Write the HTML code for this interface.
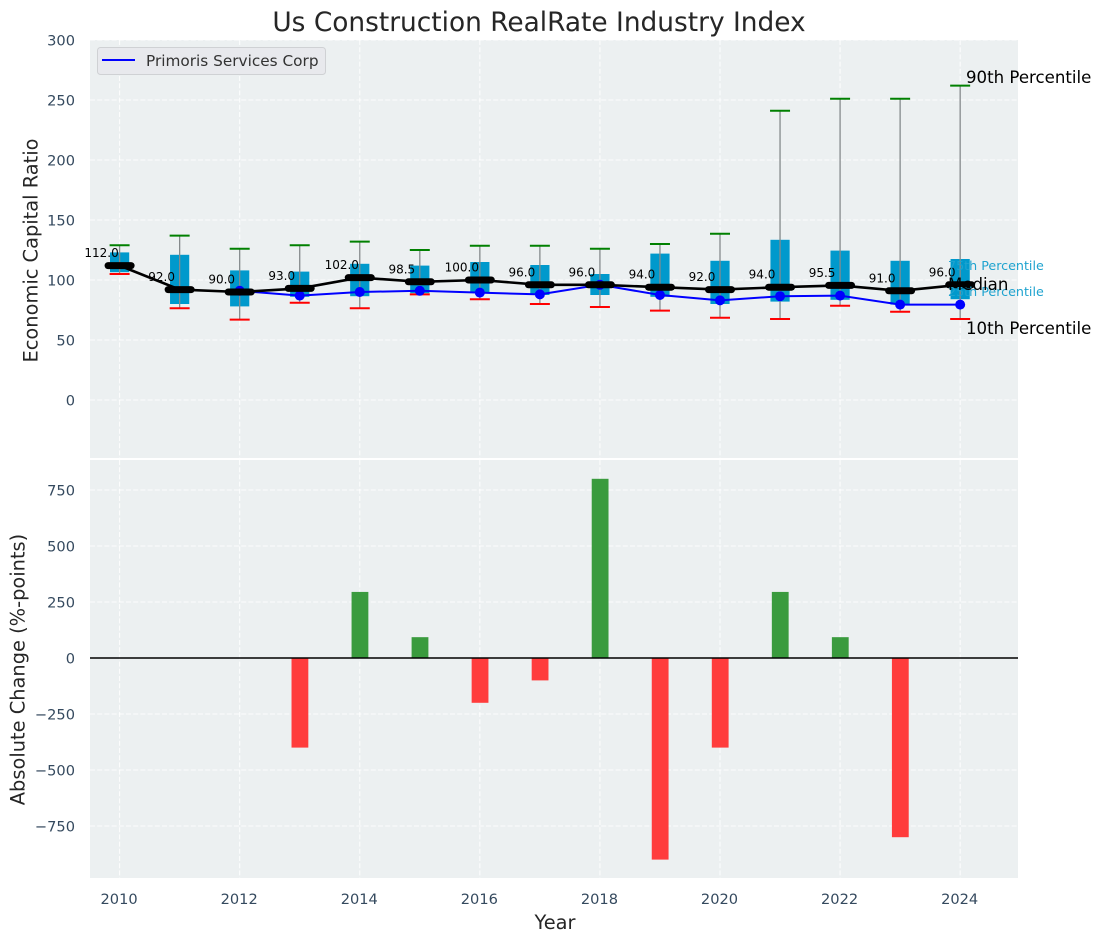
<!DOCTYPE html>
<html lang="en">
<head>
<meta charset="utf-8">
<title>Us Construction RealRate Industry Index</title>
<style>
html,body{margin:0;padding:0;background:#fff;}
svg{display:block;font-family:"DejaVu Sans","Liberation Sans",sans-serif;}
</style>
</head>
<body>
<svg id="chart" xmlns="http://www.w3.org/2000/svg" width="1101" height="942" viewBox="0 0 1101 942">
  <rect x="90" y="40" width="928" height="418" fill="#ecf0f1"/>
  <rect x="90" y="460" width="928" height="418" fill="#ecf0f1"/>
  <g id="grid"></g>
  <g id="bars"></g>
  <line x1="90" x2="1018" y1="658" y2="658" stroke="#000" stroke-width="1.4"/>
  <g id="boxes"></g>
  <g id="series"></g>
  <g id="ticks"></g>
  <text x="539" y="31" font-size="26.4" fill="#262626" text-anchor="middle">Us Construction RealRate Industry Index</text>
  <text transform="translate(37.5,250.5) rotate(-90)" font-size="19.4" fill="#262626" text-anchor="middle">Economic Capital Ratio</text>
  <text transform="translate(24.5,669.5) rotate(-90)" font-size="19.4" fill="#262626" text-anchor="middle">Absolute Change (%-points)</text>
  <text x="555" y="929" font-size="19.4" fill="#262626" text-anchor="middle">Year</text>
  <g>
    <rect x="97.5" y="47.5" width="228" height="27" rx="3" fill="#e8e9ed" stroke="#cfd1d4"/>
    <line x1="102" x2="135" y1="60" y2="60" stroke="#0000ff" stroke-width="2"/>
    <text x="146" y="66" font-size="15.3" fill="#333">Primoris Services Corp</text>
  </g>
  <g>
    <text x="948" y="270" font-size="12.7" fill="#1fa3cf">75th Percentile</text>
    <text x="948" y="296" font-size="12.7" fill="#1fa3cf">25th Percentile</text>
    <text x="966" y="83" font-size="16.6" fill="#000">90th Percentile</text>
    <text x="948" y="290" font-size="16.6" fill="#000">Median</text>
    <text x="966" y="334" font-size="16.6" fill="#000">10th Percentile</text>
  </g>
</svg>
<script>
const years = [2010,2011,2012,2013,2014,2015,2016,2017,2018,2019,2020,2021,2022,2023,2024];
const p90 = [129,137,126,129,132,125,128.5,128.5,126,130,138.5,241,251,251,262];
const p75 = [123,121,108,107,113.5,112,115,112.5,105,122,116,133.5,124.5,116,117.5];
const medians = [112,92,90,93,102,98.5,100,96,96,94,92,94,95.5,91,96];
const p25 = [106.5,80,78,86,86.5,89,90,87.5,87.5,86,80,82,83.5,79.5,84];
const p10 = [105,76.5,67,81,76.5,88,84,80,77.5,74.5,68.5,67.5,78.5,73.5,67.5];
const company = [null,null,91,87,90,91,89.5,88,96,87.5,83,86.5,87,79.5,79.5];
const changes = [0,0,0,-400,295,93,-200,-100,800,-900,-400,295,93,-800,0];
const xTicks = [2010,2012,2014,2016,2018,2020,2022,2024];
const topTicks = [0,50,100,150,200,250,300];
const bottomTicks = [-750,-500,-250,0,250,500,750];

const NS = 'http://www.w3.org/2000/svg';
const xScale = v => 119.6 + (v - 2010) * 60.04;
const yTop = v => 400 - v * 1.2;
const yBottom = v => 658 - v * 0.224;
function mk(parent, tag, attrs, text) {
  const e = document.createElementNS(NS, tag);
  for (const k in attrs) e.setAttribute(k, attrs[k]);
  if (text !== undefined) e.textContent = text;
  document.getElementById(parent).appendChild(e);
  return e;
}
const fmt = v => String(v).replace('-', '\u2212');
const gridStyle = {stroke:'#ffffff','stroke-width':1.1,'stroke-opacity':0.85,'stroke-dasharray':'5 2.2'};

xTicks.forEach(t => {
  [[40,458],[460,878]].forEach(r => {
    const g = mk('grid','line',Object.assign({x1:xScale(t),x2:xScale(t),y1:r[0],y2:r[1]},gridStyle));
    
    
  });
  const l = mk('ticks','text',{x:xScale(t)-0.5,y:904,'font-size':14.6,fill:'#34495e','text-anchor':'middle'},fmt(t));
  
  
});
topTicks.forEach(t => {
  const g = mk('grid','line',Object.assign({x1:90,x2:1018,y1:yTop(t),y2:yTop(t)},gridStyle));
  
  
  const l = mk('ticks','text',{x:75,y:yTop(t)+5.3,'font-size':14.6,fill:'#34495e','text-anchor':'end'},fmt(t));
  
  
});
bottomTicks.forEach(t => {
  const g = mk('grid','line',Object.assign({x1:90,x2:1018,y1:yBottom(t),y2:yBottom(t)},gridStyle));
  
  
  const l = mk('ticks','text',{x:75,y:yBottom(t)+5.3,'font-size':14.6,fill:'#34495e','text-anchor':'end'},fmt(t));
  
  
});

changes.forEach((c,i) => {
  if (c === 0) return;
  const y0 = yBottom(Math.max(c,0)), y1 = yBottom(Math.min(c,0));
  const b = mk('bars','rect',{x:xScale(years[i])-8.2,y:y0,width:16.8,height:y1-y0,fill:c>0?'#3a9b3e':'#ff3c3c'});
  
  
});

years.forEach((yr,i) => {
  const x = xScale(yr);
  const box = mk('boxes','rect',{x:x-9.6,y:yTop(p75[i]),width:19.2,height:yTop(p25[i])-yTop(p75[i]),fill:'#0099cc'});
  
  
  const w = mk('boxes','line',{x1:x,x2:x,y1:yTop(p90[i]),y2:yTop(p10[i]),stroke:'#858a8c','stroke-width':1.3});
  
  
  const hi = mk('boxes','line',{x1:x-10,x2:x+10,y1:yTop(p90[i]),y2:yTop(p90[i]),stroke:'#008000','stroke-width':2});
  
  
  const lo = mk('boxes','line',{x1:x-10,x2:x+10,y1:yTop(p10[i]),y2:yTop(p10[i]),stroke:'#ff0000','stroke-width':2});
  
  
});

const companyPts = years.map((yr,i) => company[i] === null ? null : xScale(yr)+','+yTop(company[i])).filter(Boolean).join(' ');
const cl = mk('series','polyline',{points:companyPts,fill:'none',stroke:'#0000ff','stroke-width':2});


years.forEach((yr,i) => {
  if (company[i] === null) return;
  const c = mk('series','circle',{cx:xScale(yr),cy:yTop(company[i]),r:5,fill:'#0000ff'});
  
  
});
const ml = mk('series','polyline',{points:years.map((yr,i)=>xScale(yr)+','+yTop(medians[i])).join(' '),fill:'none',stroke:'#000','stroke-width':2.6});


years.forEach((yr,i) => {
  const x = xScale(yr), y = yTop(medians[i]);
  const m = mk('series','line',{x1:x-11.5,x2:x+11.5,y1:y,y2:y,stroke:'#000','stroke-width':7,'stroke-linecap':'round'});
  
  
  const t = mk('series','text',{x:x-18,y:y-8.5,'font-size':12,fill:'#000','text-anchor':'middle'},medians[i].toFixed(1));
  
  
});
</script>
</body>
</html>
